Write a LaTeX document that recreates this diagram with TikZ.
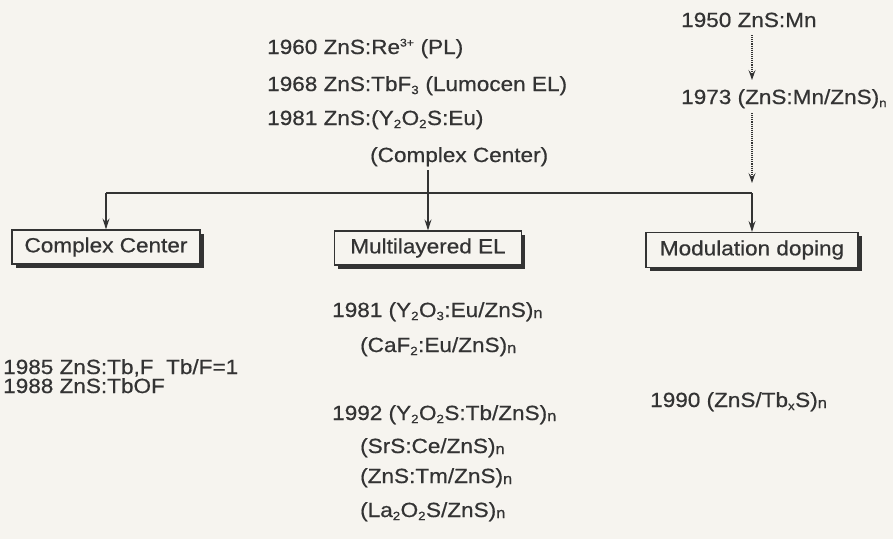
\documentclass[tikz,border=0pt]{standalone}
\usepackage{fontspec}
\setmainfont{Liberation Sans}[FakeStretch=1.1,FakeBold=0.6]
\usetikzlibrary{arrows.meta,shadows}
\definecolor{bg}{HTML}{F6F4EF}
\definecolor{ink}{HTML}{333333}
\newcommand{\nsm}{\raisebox{-1pt}{\fontsize{15}{15}\selectfont n}}
\newcommand{\sbs}[1]{\textsubscript{\fontsize{12}{12}\selectfont #1}}
\begin{document}
\begin{tikzpicture}[x=1pt,y=-1pt,
  every node/.style={font=\fontsize{20.5}{24}\selectfont, text=ink},
  lbl/.style={anchor=base west, inner sep=0pt},
  catbox/.style={draw=ink, line width=1.2pt, fill=bg, minimum height=34pt, inner sep=0pt,
    drop shadow={shadow xshift=3.5pt, shadow yshift=-3.5pt, fill=ink, opacity=1}},
  conn/.style={draw=ink, line width=1.2pt, -{Stealth[length=11pt,width=7pt,inset=4pt]}},
  dotconn/.style={draw=ink, line width=1.1pt, densely dotted, -{Stealth[length=10pt,width=7pt,inset=4pt]}},
  plain/.style={draw=ink, line width=1.2pt}]
\fill[bg] (0,0) rectangle (893,539);
\useasboundingbox (0,0) rectangle (893,539);

% top centre texts
\node[lbl] (t1) at (267,54) {1960 ZnS:Re\textsuperscript{\fontsize{11}{11}\selectfont 3+} (PL)};
\node[lbl] (t2) at (267,91) {1968 ZnS:TbF\sbs{3} (Lumocen EL)};
\node[lbl] (t3) at (267,125) {1981 ZnS:(Y\sbs{2}O\sbs{2}S:Eu)};
\node[lbl] (t4) at (370,162) {(Complex Center)};

% top right texts
\node[lbl] (a1) at (681,27) {1950 ZnS:Mn};
\node[lbl] (a2) at (681,104) {1973 (ZnS:Mn/ZnS)\sbs{n}};

% boxes
\node[catbox, minimum width=188pt] (cc) at (106,247) {Complex Center};
\node[catbox, minimum width=187pt] (ml) at (428,248) {Multilayered EL};
\node[catbox, minimum width=212pt, minimum height=35pt] (md) at (752,250) {Modulation doping};

% junction coordinates
\coordinate (J) at (752,193);
\coordinate (Jtop) at (752,183);
\coordinate (A1b) at (752,35);
\coordinate (A2t) at (752,80);
\coordinate (A2b) at (752,113);
\coordinate (Ctop) at (428,170);

% connectors
\draw[dotconn] (A1b) -- (A2t);
\draw[dotconn] (A2b) -- (Jtop);
\draw[plain] (cc.north |- J) -- (J);
\draw[conn] (cc.north |- J) -- (cc.north);
\draw[conn] (Ctop) -- (ml.north);
\draw[conn] (J) -- (md.north);

% lower texts: complex center
\node[lbl] (c1) at (3,374) {1985 ZnS:Tb,F\ \ Tb/F=1};
\node[lbl] (c2) at (3,393) {1988 ZnS:TbOF};

% multilayered
\node[lbl] (l1) at (332,317) {1981 (Y\sbs{2}O\sbs{3}:Eu/ZnS)\nsm};
\node[lbl] (l2) at (360,352) {(CaF\sbs{2}:Eu/ZnS)\nsm};
\node[lbl] (l3) at (332,420) {1992 (Y\sbs{2}O\sbs{2}S:Tb/ZnS)\nsm};
\node[lbl] (l4) at (360,453) {(SrS:Ce/ZnS)\nsm};
\node[lbl] (l5) at (360,483) {(ZnS:Tm/ZnS)\nsm};
\node[lbl] (l6) at (360,517) {(La\sbs{2}O\sbs{2}S/ZnS)\nsm};

% modulation doping
\node[lbl] (m1) at (650,407) {1990 (ZnS/Tb\sbs{x}S)\nsm};
\end{tikzpicture}
\end{document}
